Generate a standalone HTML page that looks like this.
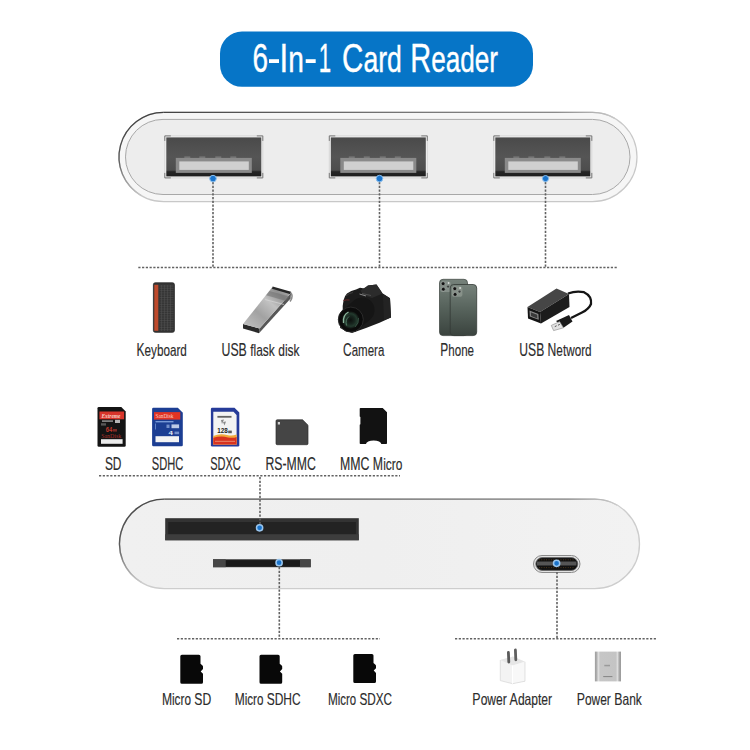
<!DOCTYPE html>
<html><head><meta charset="utf-8">
<style>
html,body{margin:0;padding:0;background:#fff;width:750px;height:750px;overflow:hidden}
svg{position:absolute;left:0;top:0;display:block}
</style></head>
<body>
<svg width="750" height="750" viewBox="0 0 750 750" font-family="'Liberation Sans', sans-serif">
<defs>
  <linearGradient id="hubStroke" x1="0" y1="0" x2="0.35" y2="1">
    <stop offset="0" stop-color="#3c3c3c"/>
    <stop offset="0.3" stop-color="#8a8a8a"/>
    <stop offset="0.7" stop-color="#bdbdbd"/>
    <stop offset="1" stop-color="#d0d0d0"/>
  </linearGradient>
  <linearGradient id="readerStroke" x1="0" y1="0" x2="0.2" y2="1">
    <stop offset="0" stop-color="#555"/>
    <stop offset="0.3" stop-color="#808080"/>
    <stop offset="0.75" stop-color="#c4c4c4"/>
    <stop offset="1" stop-color="#d8d8d8"/>
  </linearGradient>
  <linearGradient id="readerEdge" gradientUnits="userSpaceOnUse" x1="120" y1="0" x2="617" y2="0">
    <stop offset="0" stop-color="#4a4a4a"/>
    <stop offset="0.06" stop-color="#4a4a4a"/>
    <stop offset="0.5" stop-color="#6a6a6a"/>
    <stop offset="0.9" stop-color="#8a8a8a"/>
    <stop offset="1" stop-color="#cdcdcd"/>
  </linearGradient>
  <linearGradient id="hubEdge" gradientUnits="userSpaceOnUse" x1="119" y1="0" x2="615" y2="0">
    <stop offset="0" stop-color="#404040"/>
    <stop offset="0.06" stop-color="#404040"/>
    <stop offset="0.5" stop-color="#707070"/>
    <stop offset="0.88" stop-color="#8a8a8a"/>
    <stop offset="1" stop-color="#c8c8c8"/>
  </linearGradient>
  <linearGradient id="hubArc" gradientUnits="userSpaceOnUse" x1="0" y1="112" x2="0" y2="196">
    <stop offset="0" stop-color="#404040"/>
    <stop offset="0.55" stop-color="#555"/>
    <stop offset="1" stop-color="#c8c8c8"/>
  </linearGradient>
  <linearGradient id="readerArc" gradientUnits="userSpaceOnUse" x1="0" y1="499" x2="0" y2="583">
    <stop offset="0" stop-color="#4a4a4a"/>
    <stop offset="0.55" stop-color="#5a5a5a"/>
    <stop offset="1" stop-color="#cdcdcd"/>
  </linearGradient>
  <linearGradient id="readerFill" x1="0" y1="0" x2="1" y2="0">
    <stop offset="0" stop-color="#f0f0f0"/>
    <stop offset="0.5" stop-color="#efefef"/>
    <stop offset="1" stop-color="#f2f2f2"/>
  </linearGradient>
  <linearGradient id="portDark" x1="0" y1="0" x2="0" y2="1">
    <stop offset="0" stop-color="#4a4a4a"/>
    <stop offset="0.5" stop-color="#555"/>
    <stop offset="0.84" stop-color="#4d4d4d"/>
    <stop offset="0.88" stop-color="#262626"/>
    <stop offset="1" stop-color="#1e1e1e"/>
  </linearGradient>
  <linearGradient id="metal" x1="0" y1="1" x2="1" y2="0">
    <stop offset="0" stop-color="#c4c4c4"/>
    <stop offset="0.35" stop-color="#a2a2a2"/>
    <stop offset="0.6" stop-color="#c2c2c2"/>
    <stop offset="0.8" stop-color="#909090"/>
    <stop offset="1" stop-color="#b8b8b8"/>
  </linearGradient>
  <linearGradient id="phoneG" x1="0" y1="0" x2="0" y2="1">
    <stop offset="0" stop-color="#76827b"/>
    <stop offset="0.5" stop-color="#56625b"/>
    <stop offset="1" stop-color="#3a433e"/>
  </linearGradient>
  <linearGradient id="bankG" x1="0" y1="0" x2="1" y2="0">
    <stop offset="0" stop-color="#9c9c9c"/>
    <stop offset="0.07" stop-color="#b0b0b0"/>
    <stop offset="0.13" stop-color="#e0e0e0"/>
    <stop offset="0.2" stop-color="#c6c6c6"/>
    <stop offset="0.8" stop-color="#c4c4c4"/>
    <stop offset="0.87" stop-color="#dedede"/>
    <stop offset="0.93" stop-color="#aaa"/>
    <stop offset="1" stop-color="#999"/>
  </linearGradient>
  <radialGradient id="glass" cx="0.5" cy="0.5" r="0.5">
    <stop offset="0" stop-color="#0c100e"/>
    <stop offset="0.45" stop-color="#18261f"/>
    <stop offset="0.7" stop-color="#233a2e"/>
    <stop offset="0.9" stop-color="#141b17"/>
    <stop offset="1" stop-color="#0b0b0b"/>
  </radialGradient>
  <g id="usbport">
    <rect x="0.5" y="0.5" width="98" height="42" fill="#f2f2f2" stroke="#d6d6d6" stroke-width="1"/>
    <rect x="2" y="2" width="95" height="39" fill="url(#portDark)"/>
    <rect x="11.5" y="22.5" width="76" height="15" fill="#8a8a8a"/>
    <rect x="15" y="26" width="69.5" height="8.5" fill="#d0d0d0"/>
    <g fill="#777"><rect x="20" y="21" width="6" height="1.6"/><rect x="35" y="21" width="6" height="1.6"/><rect x="51" y="21" width="6" height="1.6"/><rect x="66" y="21" width="6" height="1.6"/></g>
    <path d="M0.5 5.5V0.5H6.5 M92.5 0.5H98.5V5.5 M0.5 37.5V42.5H6.5 M92.5 42.5H98.5V37.5" fill="none" stroke="#7a7a7a" stroke-width="1"/>
  </g>
  <path id="msd" d="M0 1.6 Q0 0 1.6 0 H18.6 Q20.2 0 20.2 1.6 V9 L22.2 10.9 Q22.9 11.6 22.7 12.6 V14.3 L20.4 16.7 L22.7 19 V27.5 Q22.7 29.1 21.1 29.1 H1.6 Q0 29.1 0 27.5Z" fill="#080808"/>
</defs>

<!-- Title pill -->
<rect x="220" y="31.5" width="313" height="55.3" rx="22" fill="#0675c7"/>
<text x="252.48" y="71.7" textLength="15.55" lengthAdjust="spacingAndGlyphs" fill="#fff" stroke="#fff" stroke-width="0.4"><tspan font-size="41">6</tspan></text>
<text x="279.62" y="71.7" textLength="24.3" lengthAdjust="spacingAndGlyphs" fill="#fff" stroke="#fff" stroke-width="0.4"><tspan font-size="41">I</tspan><tspan font-size="37">n</tspan></text>
<text x="318.8" y="71.7" textLength="12.38" lengthAdjust="spacingAndGlyphs" fill="#fff" stroke="#fff" stroke-width="0.4"><tspan font-size="41">1</tspan></text>
<text x="342.1" y="71.7" textLength="59.82" lengthAdjust="spacingAndGlyphs" fill="#fff" stroke="#fff" stroke-width="0.4"><tspan font-size="41">C</tspan><tspan font-size="37">ard</tspan></text>
<text x="410.22" y="71.7" textLength="87.81" lengthAdjust="spacingAndGlyphs" fill="#fff" stroke="#fff" stroke-width="0.4"><tspan font-size="41">R</tspan><tspan font-size="37">eader</tspan></text>
<rect x="269" y="59.2" width="10" height="3.8" fill="#fff"/>
<rect x="305.7" y="59.2" width="10" height="3.8" fill="#fff"/>

<!-- Top hub -->
<rect x="119" y="112.3" width="518" height="89.3" rx="44.65" fill="#f6f6f6" stroke="#c8c8c8" stroke-width="1.2"/>
<path d="M141.32 195.62 A44.65 44.65 0 0 1 163.65 112.3" fill="none" stroke="url(#hubArc)" stroke-width="1.3"/>
<path d="M163.65 112.3 H592.35 A44.65 44.65 0 0 1 614.7 118.3" fill="none" stroke="url(#hubEdge)" stroke-width="1.3"/>
<rect x="125.5" y="119.4" width="504.5" height="75.1" rx="37.5" fill="#ededed" stroke="#a8a8a8" stroke-width="1"/>
<use href="#usbport" x="164.3" y="135.4"/>
<use href="#usbport" x="328.8" y="135.4"/>
<use href="#usbport" x="493.3" y="135.4"/>

<!-- dotted lines -->
<g stroke="#626262" stroke-width="1.6" stroke-dasharray="2.2 1.55" fill="none">
  <path d="M213 182V267"/>
  <path d="M379.5 182V267"/>
  <path d="M545.5 182V267"/>
  <path d="M138.3 267.5H618"/>
</g>
<g fill="#1a74cc" stroke="#8cc0ee" stroke-width="1">
  <circle cx="213" cy="178.6" r="3.3"/>
  <circle cx="379.5" cy="178.6" r="3.3"/>
  <circle cx="545.5" cy="178.6" r="3.1"/>
</g>

<!-- Row 1 icons -->
<!-- keyboard -->
<rect x="153.4" y="282.8" width="21" height="49.5" rx="1.8" fill="#353535" stroke="#262626" stroke-width="0.8"/>
<rect x="154.3" y="284.8" width="4" height="46" fill="#be4a2c"/>
<g stroke="#555" stroke-width="0.45" fill="none">
  <path d="M159.5 286.0H173.5M159.5 288.3H173.5M159.5 290.6H173.5M159.5 292.9H173.5M159.5 295.2H173.5M159.5 297.5H173.5M159.5 299.8H173.5M159.5 302.1H173.5M159.5 304.4H173.5M159.5 306.7H173.5M159.5 309.0H173.5M159.5 311.3H173.5M159.5 313.6H173.5M159.5 315.9H173.5M159.5 318.2H173.5M159.5 320.5H173.5M159.5 322.8H173.5M159.5 325.1H173.5M159.5 327.4H173.5M159.5 329.7H173.5"/>
  <path d="M161.5 285V331M164.5 285V331M167.5 285V331M170.5 285V331"/>
</g>
<!-- flask disk -->
<g>
  <path d="M259.5 328.5 L291 293 L290.6 298.6 L259 333.2 Z" fill="#575757"/>
  <path d="M243 324 L259.5 328.5 L259 333.2 L243 328.6 Z" fill="#2a2a2a"/>
  <path d="M243 324 L272 287.5 L291 293 L259.5 328.5 Z" fill="url(#metal)"/>
  <path d="M269.5 291 L289.5 296.6 L286 301 L266.2 295.2 Z" fill="#6e6e6e" opacity="0.55"/>
  <path d="M265 299.5 L284 304.5" stroke="#d8d8d8" stroke-width="1.2" opacity="0.7"/>
  <path d="M272.3 287.6 L290.8 293" stroke="#262626" stroke-width="2.4"/>
  <path d="M290.5 292.5 Q294 296 290 301.5" fill="none" stroke="#8a8a8a" stroke-width="1.6"/>
</g>
<!-- camera -->
<g>
  <path d="M342.8 312 Q342 298 347 293.5 Q351 290.5 356 289.5 L360 287.8 L364.5 288.5 L368 285.6 L376.5 284.4 L382.6 293.5 L390 298.2 L391 317.6 L379.5 322.8 L366 328 L352 333 L340 328 Z" fill="#1c1c1c"/>
  <path d="M360.5 290.5 L368 285.6 L376.5 284.4 L382.6 293.5 L372 298 L363 295 Z" fill="#2b2b2b"/>
  <path d="M362 293.5 L371 295.5" stroke="#555" stroke-width="0.8"/>
  <path d="M382.6 293.5 L390 298.2 L391 317.6 L384 320 L383 298Z" fill="#232323"/>
  <path d="M346 296 Q349 293 353 292.5" fill="none" stroke="#3c3c3c" stroke-width="1"/>
  <path d="M343.5 300.5 Q346 299.5 349.5 300" fill="none" stroke="#6a2626" stroke-width="1"/>
  <path d="M351 319.5 L362 310" stroke="#151515" stroke-width="25" stroke-linecap="round"/>
  <circle cx="350.8" cy="319.6" r="12.5" fill="#0b0b0b" stroke="#2e2e2e" stroke-width="0.9"/>
  <circle cx="350.6" cy="320" r="9" fill="url(#glass)"/>
  <path d="M343.5 323 Q342.5 315 348.5 312" fill="none" stroke="#a8d8bc" stroke-width="1.3" opacity="0.8"/>
  <path d="M346.5 325.5 Q345 319.5 349 316.5" fill="none" stroke="#6fa88a" stroke-width="1" opacity="0.6"/>
  <path d="M355 327 Q359 323 358.5 318" fill="none" stroke="#4f7a64" stroke-width="0.9" opacity="0.6"/>
  <path d="M359.5 294 L366 296" stroke="#cfcfcf" stroke-width="1" opacity="0.6"/>
</g>
<!-- phone -->
<rect x="439.5" y="279.3" width="28" height="56.3" rx="3.5" fill="url(#phoneG)" stroke="#3a403c" stroke-width="0.7"/>
<rect x="440.2" y="281.2" width="10.6" height="10.8" rx="2.6" fill="#848e88"/>
<circle cx="443.1" cy="283.7" r="1.9" fill="#101010" stroke="#b4bab6" stroke-width="0.5"/>
<circle cx="443.3" cy="289.2" r="1.9" fill="#101010" stroke="#b4bab6" stroke-width="0.5"/>
<circle cx="448.1" cy="286.6" r="1.4" fill="#3a3f3c" stroke="#a4aaa6" stroke-width="0.4"/>
<circle cx="448.6" cy="283" r="0.9" fill="#d8dcd9"/>
<rect x="450.2" y="284.5" width="26.5" height="51.1" rx="3.5" fill="url(#phoneG)" stroke="#343a36" stroke-width="0.8"/>
<rect x="451.8" y="286.2" width="10.6" height="10.6" rx="2.6" fill="#879189"/>
<circle cx="454.8" cy="288.7" r="1.9" fill="#101010" stroke="#b4bab6" stroke-width="0.5"/>
<circle cx="455.1" cy="294.4" r="1.9" fill="#101010" stroke="#b4bab6" stroke-width="0.5"/>
<circle cx="459.5" cy="291.6" r="1.4" fill="#3a3f3c" stroke="#a4aaa6" stroke-width="0.4"/>
<circle cx="460.1" cy="288" r="0.9" fill="#d8dcd9"/>
<!-- usb network -->
<g>
  <path d="M568 293.5 Q576 290.5 584 292.2 Q592 296 591 304 Q589 309 582 312.5 L571 318" fill="none" stroke="#151515" stroke-width="2.3"/>
  <path d="M527.5 307 L556.5 288.5 L569 294 L540 312 Z" fill="#464646"/>
  <path d="M540 312 L569 294 L569.5 307 L541 323.5 Z" fill="#1c1c1c"/>
  <path d="M527.5 307 L540 312 L541 323.5 L528 318.5 Z" fill="#141414"/>
  <path d="M529.5 310.6 L538.4 314 L538.7 319.8 L529.8 316.4 Z" fill="#8a8a8a"/>
  <path d="M530.8 312.3 L537.2 314.8 L537.4 318.4 L531 316 Z" fill="#3a3a3a"/>
  <path d="M556 321 L569 315 L572.5 321.5 L563.5 327.8 Z" fill="#1a1a1a"/>
  <path d="M551.3 325.4 L559.6 321.6 L563.5 327.8 L553.6 330.6 Z" fill="#e2e2e2" stroke="#858585" stroke-width="0.6"/>
  <path d="M554.8 326.6 L556.6 325.8 M558 325.2 L559.8 324.4" stroke="#555" stroke-width="1"/>
</g>

<text x="136.49" y="356" textLength="50.39" lengthAdjust="spacingAndGlyphs" fill="#2c2c2c" stroke="#2c2c2c" stroke-width="0.15"><tspan font-size="17.5">K</tspan><tspan font-size="17.0">eyboard</tspan></text>
<text x="221.53" y="356" textLength="77.98" lengthAdjust="spacingAndGlyphs" fill="#2c2c2c" stroke="#2c2c2c" stroke-width="0.15"><tspan font-size="17.5">USB </tspan><tspan font-size="17.0">flask</tspan><tspan font-size="17.5"> </tspan><tspan font-size="17.0">disk</tspan></text>
<text x="343.07" y="356" textLength="41.25" lengthAdjust="spacingAndGlyphs" fill="#2c2c2c" stroke="#2c2c2c" stroke-width="0.15"><tspan font-size="17.5">C</tspan><tspan font-size="17.0">amera</tspan></text>
<text x="440.3" y="356" textLength="33.74" lengthAdjust="spacingAndGlyphs" fill="#2c2c2c" stroke="#2c2c2c" stroke-width="0.15"><tspan font-size="17.5">P</tspan><tspan font-size="17.0">hone</tspan></text>
<text x="519.34" y="356" textLength="72.34" lengthAdjust="spacingAndGlyphs" fill="#2c2c2c" stroke="#2c2c2c" stroke-width="0.15"><tspan font-size="17.5">USB N</tspan><tspan font-size="17.0">etword</tspan></text>
<text x="104.93" y="470" textLength="16.56" lengthAdjust="spacingAndGlyphs" fill="#2c2c2c" stroke="#2c2c2c" stroke-width="0.15"><tspan font-size="17.5">SD</tspan></text>
<text x="151.87" y="470" textLength="31.48" lengthAdjust="spacingAndGlyphs" fill="#2c2c2c" stroke="#2c2c2c" stroke-width="0.15"><tspan font-size="17.5">SDHC</tspan></text>
<text x="210.18" y="470" textLength="30.57" lengthAdjust="spacingAndGlyphs" fill="#2c2c2c" stroke="#2c2c2c" stroke-width="0.15"><tspan font-size="17.5">SDXC</tspan></text>
<text x="265.47" y="470" textLength="50.32" lengthAdjust="spacingAndGlyphs" fill="#2c2c2c" stroke="#2c2c2c" stroke-width="0.15"><tspan font-size="17.5">RS-MMC</tspan></text>
<text x="340.06" y="470" textLength="62.36" lengthAdjust="spacingAndGlyphs" fill="#2c2c2c" stroke="#2c2c2c" stroke-width="0.15"><tspan font-size="17.5">MMC M</tspan><tspan font-size="17.0">icro</tspan></text>
<text x="161.88" y="705.1" textLength="49.33" lengthAdjust="spacingAndGlyphs" fill="#2c2c2c" stroke="#2c2c2c" stroke-width="0.15"><tspan font-size="17">M</tspan><tspan font-size="16.5">icro</tspan><tspan font-size="17"> SD</tspan></text>
<text x="234.69" y="705.1" textLength="65.99" lengthAdjust="spacingAndGlyphs" fill="#2c2c2c" stroke="#2c2c2c" stroke-width="0.15"><tspan font-size="17">M</tspan><tspan font-size="16.5">icro</tspan><tspan font-size="17"> SDHC</tspan></text>
<text x="327.91" y="705.1" textLength="64.16" lengthAdjust="spacingAndGlyphs" fill="#2c2c2c" stroke="#2c2c2c" stroke-width="0.15"><tspan font-size="17">M</tspan><tspan font-size="16.5">icro</tspan><tspan font-size="17"> SDXC</tspan></text>
<text x="472.36" y="705.1" textLength="79.76" lengthAdjust="spacingAndGlyphs" fill="#2c2c2c" stroke="#2c2c2c" stroke-width="0.15"><tspan font-size="17">P</tspan><tspan font-size="16.5">ower</tspan><tspan font-size="17"> A</tspan><tspan font-size="16.5">dapter</tspan></text>
<text x="576.66" y="705.1" textLength="65.14" lengthAdjust="spacingAndGlyphs" fill="#2c2c2c" stroke="#2c2c2c" stroke-width="0.15"><tspan font-size="17">P</tspan><tspan font-size="16.5">ower</tspan><tspan font-size="17"> B</tspan><tspan font-size="16.5">ank</tspan></text>

<!-- Row 2 cards -->
<!-- SD Extreme -->
<path d="M97.5 408.3 Q97.5 407 98.8 407 H121.3 L125.7 411.4 V445.5 Q125.7 446.8 124.4 446.8 H98.8 Q97.5 446.8 97.5 445.5Z" fill="#141414"/>
<rect x="99.4" y="411.5" width="24.7" height="7.8" fill="#d8352b"/>
<text x="101.5" y="418" font-size="5.2" font-family="'Liberation Serif', serif" font-style="italic" font-weight="bold" fill="#f6d2c8" textLength="19" lengthAdjust="spacingAndGlyphs">Extreme</text>
<rect x="102" y="420.3" width="11" height="1.6" fill="#bbb" opacity="0.7"/>
<rect x="115" y="419.8" width="5" height="3.2" fill="#ddd" opacity="0.8"/>
<rect x="101" y="423.2" width="5" height="2.4" fill="#999" opacity="0.5"/>
<text x="105.8" y="432.2" font-size="7" font-weight="bold" fill="#c0392e" textLength="6.6" lengthAdjust="spacingAndGlyphs">64</text>
<rect x="113" y="429" width="4" height="2.6" fill="#7a2a25"/>
<text x="101.2" y="437.8" font-size="5.6" font-family="'Liberation Serif', serif" fill="#a8302a" textLength="20" lengthAdjust="spacingAndGlyphs">SanDisk</text>
<rect x="101" y="439.2" width="21.6" height="4.6" fill="#ececec"/>
<!-- SDHC -->
<path d="M152.1 409 Q152.1 407.7 153.4 407.7 H177.8 L182.8 412.7 V445 Q182.8 446.3 181.5 446.3 H153.4 Q152.1 446.3 152.1 445Z" fill="#1c3e93"/>
<rect x="154" y="412.1" width="26.3" height="7.5" fill="#e03424"/>
<text x="155.5" y="418.2" font-size="5.6" font-family="'Liberation Serif', serif" fill="#f8d0c4" textLength="18" lengthAdjust="spacingAndGlyphs">SanDisk</text>
<rect x="155.5" y="421" width="18" height="1.4" fill="#8fb0e8" opacity="0.8"/>
<rect x="155" y="423.5" width="1" height="6" fill="#8fb0e8" opacity="0.6"/>
<rect x="166.5" y="424.6" width="3" height="3.4" fill="#9ab4e4" opacity="0.7"/>
<rect x="171.5" y="424.4" width="7.6" height="3.8" fill="#d8e2f4" opacity="0.85"/>
<text x="168.5" y="434.6" font-size="6" font-weight="bold" fill="#e8eef8" textLength="4.4" lengthAdjust="spacingAndGlyphs">4</text>
<rect x="174.5" y="431.6" width="4.6" height="2.6" fill="#9ab4e4" opacity="0.7"/>
<rect x="155.5" y="436.2" width="23.5" height="6" fill="#f4f4f4"/>
<!-- SDXC -->
<path d="M210.9 409 Q210.9 407.7 212.2 407.7 H234.5 L239.3 412.5 V445.3 Q239.3 446.6 238 446.6 H212.2 Q210.9 446.6 210.9 445.3Z" fill="#263b99"/>
<path d="M213.3 411.8 H233.5 L236.6 414.9 V444.4 H213.3Z" fill="#f3f3f3"/>
<rect x="217.4" y="415.9" width="14.1" height="1.8" fill="#333" opacity="0.75"/>
<path d="M221 420 L224 419.5 L222 424 Z M223 422 L226 421.5 L224.5 425.5Z" fill="#444" opacity="0.6"/>
<text x="217.2" y="433.2" font-size="6.6" font-weight="bold" fill="#222" textLength="10.5" lengthAdjust="spacingAndGlyphs">128</text>
<rect x="228.2" y="430.6" width="3.6" height="2.6" fill="#333" opacity="0.8"/>
<path d="M213.3 436 Q220 433 227 435 Q232 436.4 236.6 434.5 V444.4 H213.3Z" fill="#f2a93a"/>
<path d="M213.3 437.8 Q221 435.6 228 437.4 Q233 438.5 236.6 437 V444.4 H213.3Z" fill="#d8321f"/>
<rect x="215" y="440.8" width="20" height="1" fill="#f2b090" opacity="0.7"/>
<!-- RS-MMC -->
<path d="M276 421 Q276 419.8 277.2 419.8 H302.6 L308 425.2 V443.5 Q308 444.7 306.8 444.7 H277.2 Q276 444.7 276 443.5Z" fill="#454545" stroke="#2e2e2e" stroke-width="0.7"/>
<rect x="277.8" y="422" width="2.2" height="2.5" fill="#d0d0d0"/>
<!-- MMC micro -->
<path d="M359.7 408.8 Q359.7 408 360.5 408 H382.7 L387 412.3 V443.2 Q387 444 386.2 444 H381.3 A7.65 3.5 0 0 0 366 444 H360.5 Q359.7 444 359.7 443.2 V424.7 L360.4 424.3 V417 L359.7 416.6Z" fill="#121212"/>

<!-- Card reader body -->
<rect x="119.5" y="499.1" width="520" height="89.6" rx="44.8" fill="url(#readerFill)" stroke="#cdcdcd" stroke-width="1.3"/>
<path d="M141.9 582.7 A44.8 44.8 0 0 1 164.3 499.1" fill="none" stroke="url(#readerArc)" stroke-width="1.4"/>
<path d="M164.3 499.1 H594.7 A44.8 44.8 0 0 1 617.1 505.1" fill="none" stroke="url(#readerEdge)" stroke-width="1.4"/>
<rect x="165.2" y="518.2" width="193.6" height="22" fill="#333"/>
<rect x="168.2" y="522" width="187.7" height="12.3" fill="#232323"/>
<rect x="165.2" y="534.3" width="193.6" height="6" fill="#3d3d3d"/>
<rect x="213" y="559.3" width="97.7" height="7.9" fill="#2a2a2a"/>
<rect x="225.7" y="560.3" width="74.3" height="5.9" fill="#1a1a1a"/>
<rect x="213" y="559.3" width="12.7" height="7.9" fill="#474747"/>
<rect x="300" y="559.3" width="10.7" height="7.9" fill="#474747"/>
<!-- USB-C -->
<rect x="533.5" y="555.5" width="46.5" height="17" rx="8.5" fill="#e2e2e2" stroke="#8a8a8a" stroke-width="1"/>
<rect x="535.8" y="557.6" width="42" height="12.8" rx="6.4" fill="#111" stroke="#666" stroke-width="0.8"/>
<rect x="537" y="561.5" width="39.5" height="4" fill="#555"/>
<g stroke="#6a4a22" stroke-width="0.8" stroke-dasharray="0.8 1.6">
  <path d="M539 559.8H575M539 567.6H575"/>
</g>
<g stroke="#626262" stroke-width="1.6" stroke-dasharray="2.2 1.55" fill="none">
  <path d="M99 475.8H400"/>
  <path d="M260 477V524"/>
  <path d="M279.3 567V638"/>
  <path d="M557 572V638"/>
  <path d="M177 638.8H380"/>
  <path d="M455 638.8H657.5"/>
</g>
<g fill="#1a74cc" stroke="#9ac6ee" stroke-width="1.5">
  <circle cx="259.6" cy="527.8" r="3.1"/>
  <circle cx="279.1" cy="562.7" r="3.1"/>
  <circle cx="556.6" cy="563.3" r="3.1"/>
</g>

<!-- Row 3 micro sd -->
<use href="#msd" x="180.3" y="654.7"/>
<use href="#msd" x="259.5" y="654.7"/>
<use href="#msd" x="353.3" y="653.9"/>
<!-- power adapter -->
<g>
  <path d="M500.3 660 L513 656.5 L525 661.8 V681.2 L512.5 683.7 L500.3 680.6 Z" fill="#f3f3f3"/>
  <path d="M500.3 660 L513 656.5 L525 661.8 L512.5 665.5 Z" fill="#e6e6e6"/>
  <path d="M512.5 665.5 L525 661.8 V681.2 L512.5 683.7Z" fill="#f8f8f8"/>
  <path d="M500.3 660 V680.6 L512.5 683.7 L525 681.2 V661.8" fill="none" stroke="#d6d6d6" stroke-width="0.7"/>
  <path d="M512.5 665.5 V683.7" stroke="#fff" stroke-width="1"/>
  <path d="M508.4 652.5 L508.8 662" stroke="#5a5a5a" stroke-width="2.8" stroke-linecap="round"/>
  <path d="M515.4 650 L515.8 659.8" stroke="#5f5f5f" stroke-width="2.8" stroke-linecap="round"/>
</g>
<!-- power bank -->
<rect x="594.9" y="651.6" width="26.1" height="29.8" fill="url(#bankG)"/>
<rect x="604.3" y="664.8" width="5.7" height="1.5" fill="#9a9a9a"/>
<rect x="603.2" y="676" width="9.2" height="1.1" fill="#8a8a8a"/>
</svg>
</body></html>
